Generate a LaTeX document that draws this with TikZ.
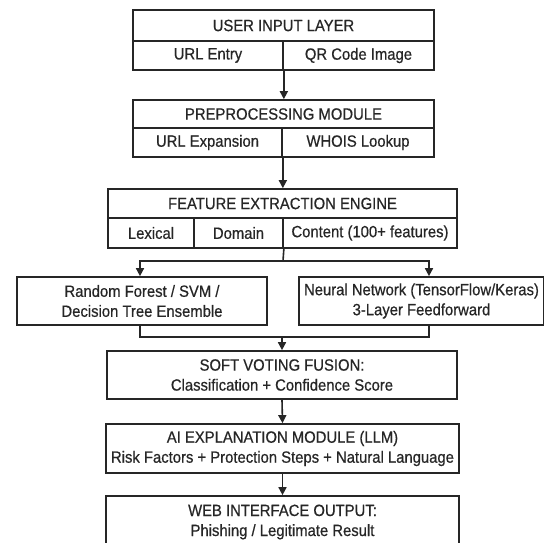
\documentclass[tikz,border=0pt]{standalone}
\usepackage{fontspec}
\setmainfont[FakeStretch=0.91,FakeBold=0.5]{Liberation Sans}
\usetikzlibrary{arrows.meta}
\definecolor{ink}{HTML}{262626}
\begin{document}
\begin{tikzpicture}[x=1pt,y=-1pt,
  box/.style={draw=ink, line width=1.7pt, rectangle, inner sep=0pt, text=ink,
    font=\fontsize{16.3}{20}\selectfont, align=center},
  flow/.style={draw=ink, line width=1.6pt, -{Triangle[length=8pt,width=8pt]}},
  link/.style={draw=ink, line width=1.6pt}]
\clip (0,0) rectangle (544,542);
\fill[white] (0,0) rectangle (544,542);
% user input layer
\node[box, minimum width=301pt, minimum height=31pt] (uh) at (283.5,25.5) {USER INPUT LAYER};
\node[box, minimum width=150pt, minimum height=29pt] (ul) at (208,55.5) {URL Entry};
\node[box, minimum width=151pt, minimum height=29pt] (ur) at (358.5,55.5) {QR Code Image};
% preprocessing
\node[box, minimum width=301pt, minimum height=28pt] (ph) at (283.5,114) {PREPROCESSING MODULE};
\node[box, minimum width=149pt, minimum height=29pt] (pl) at (207.5,142.5) {URL Expansion};
\node[box, minimum width=152pt, minimum height=29pt] (pr) at (358,142.5) {WHOIS Lookup};
% feature extraction
\node[box, minimum width=349pt, minimum height=29pt] (fh) at (282.5,203.5) {FEATURE EXTRACTION ENGINE};
\node[box, minimum width=86pt, minimum height=30pt] (fl) at (151,233) {Lexical};
\node[box, minimum width=89pt, minimum height=30pt] (fd) at (238.5,233) {Domain};
\node[box, minimum width=174pt, minimum height=30pt] (fc) at (370,233) {Content (100+ features)};
% models
\node[box, minimum width=250pt, minimum height=48pt] (ml) at (142,301) {Random Forest / SVM /\\Decision Tree Ensemble};
\node[box, minimum width=245pt, minimum height=48pt] (mr) at (421.5,301) {Neural Network (TensorFlow/Keras)\\3-Layer Feedforward};
% fusion etc.
\node[box, minimum width=350pt, minimum height=48pt] (sv) at (282,375) {SOFT VOTING FUSION:\\Classification + Confidence Score};
\node[box, minimum width=353pt, minimum height=49pt] (ai) at (282.5,448.5) {AI EXPLANATION MODULE (LLM)\\Risk Factors + Protection Steps + Natural Language};
\node[box, minimum width=353pt, minimum height=52pt] (web) at (282.5,522) {WEB INTERFACE OUTPUT:\\Phishing / Legitimate Result};
% connectors
\draw[flow] (ul.south east) -- (ul.south east |- ph.north);
\draw[flow] (pl.south east) -- (pl.south east |- fh.north);
\coordinate (sp) at (283,261);
\coordinate (bl) at (140,261);
\coordinate (br) at (429,261);
\draw[link] (fd.south east) -- (sp);
\draw[flow] (sp) -- (bl) -- (bl |- ml.north);
\draw[flow] (sp) -- (br) -- (br |- mr.north);
\coordinate (jl) at (140,337);
\coordinate (jr) at (429,337);
\coordinate (jm) at (282,337);
\draw[link] (jl |- ml.south) -- (jl) -- (jr) -- (jr |- mr.south);
\draw[flow] (jm) -- (jm |- sv.north);
\draw[flow] (sv.south) -- (ai.north);
\draw[flow] (ai.south) -- (web.north);
\end{tikzpicture}
\end{document}
